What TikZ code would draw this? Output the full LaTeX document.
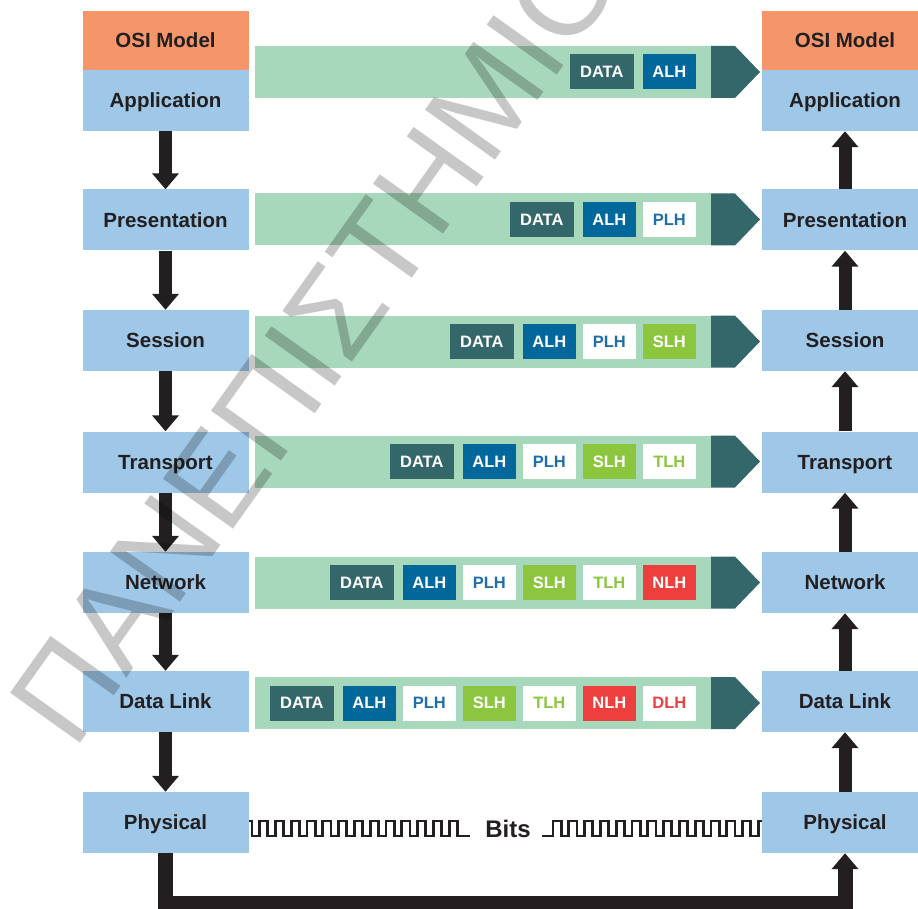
\documentclass[tikz,border=0pt]{standalone}
\usepackage{fontspec}
\setmainfont{Liberation Sans}
\usetikzlibrary{arrows.meta}

\definecolor{osic}{HTML}{F4956A}
\definecolor{boxc}{HTML}{9FC8E8}
\definecolor{bannerc}{HTML}{A8D8BB}
\definecolor{headc}{HTML}{33676A}
\definecolor{alhc}{HTML}{02679B}
\definecolor{plhtext}{HTML}{1F6EA8}
\definecolor{slhc}{HTML}{8CC63F}
\definecolor{nlhc}{HTML}{EE3F3F}
\definecolor{inkc}{HTML}{231F20}

\begin{document}
\begin{tikzpicture}[x=1pt,y=-1pt,
  layer/.style={fill=boxc, minimum width=166pt, minimum height=61pt, inner sep=0pt,
    text height=14.7pt, text depth=0pt,
    text=inkc, font=\fontsize{20.5}{24}\selectfont\bfseries},
  flow/.style={draw=inkc, line width=13pt, line join=miter,
    -{Triangle[width=26pt,length=16pt]}},
  pkt/.style={minimum width=53pt, minimum height=35pt, inner sep=0pt, anchor=east,
    text height=11.8pt, text depth=0pt,
    font=\fontsize{16.5}{18}\selectfont\bfseries},
  wave/.style={draw=inkc, line width=2.8pt, line join=miter}]

\clip (0,0) rectangle (918,909);
\fill[white] (0,0) rectangle (918,909);

% sending stack
\node[layer, fill=osic, minimum height=59pt] (L0) at (165.5,40.5) {OSI Model};
\node[layer] (L1) at (165.5,100.5) {Application};
\node[layer] (L2) at (165.5,220)   {Presentation};
\node[layer] (L3) at (165.5,340.5) {Session};
\node[layer] (L4) at (165.5,462)   {Transport};
\node[layer] (L5) at (165.5,582.5) {Network};
\node[layer] (L6) at (165.5,701.5) {Data Link};
\node[layer] (L7) at (165.5,822.5) {Physical};

% receiving stack
\node[layer, fill=osic, minimum height=59pt] (R0) at (845,40.5) {OSI Model};
\node[layer] (R1) at (845,100.5) {Application};
\node[layer] (R2) at (845,220)   {Presentation};
\node[layer] (R3) at (845,340.5) {Session};
\node[layer] (R4) at (845,462)   {Transport};
\node[layer] (R5) at (845,582.5) {Network};
\node[layer] (R6) at (845,701.5) {Data Link};
\node[layer] (R7) at (845,822.5) {Physical};

% down the sender, up the receiver
\foreach \a/\b in {1/2,2/3,3/4,4/5,5/6,6/7} {
  \draw[flow] (L\a.south) -- (L\b.north);
  \draw[flow] (R\b.north) -- (R\a.south);
}
\draw[flow, line width=15pt] (L7.south) -- ++(0,50) -| (R7.south);

% encapsulation banners with headers
\foreach \row/\yc/\n in {1/72/1, 2/219.5/2, 3/341.5/3, 4/461.5/4, 5/582.5/5, 6/703/6} {
  \fill[bannerc] (255,\yc-26) rectangle (711,\yc+26);
  \fill[headc] (711,\yc-26) -- (735,\yc-26) -- (760,\yc) -- (735,\yc+26) -- (711,\yc+26) -- cycle;
  \node[pkt, fill=headc, text=white, minimum width=64pt] (d\row)
    at ({634-60*(\n-1)},\yc) {DATA};
  \foreach \k/\lab/\fc/\tc in {1/ALH/alhc/white, 2/PLH/white/plhtext, 3/SLH/slhc/white,
                               4/TLH/white/slhc, 5/NLH/nlhc/white, 6/DLH/white/nlhc} {
    \ifnum\k>\n\relax\else
      \node[pkt, fill=\fc, text=\tc] (p\row-\k) at ({696-60*(\n-\k)},\yc) {\lab};
    \fi
  }
}

% bit stream between the physical layers
\node[text=inkc, font=\fontsize{24}{26}\selectfont\bfseries, inner sep=0pt] (bits) at (508,829) {Bits};
\draw[wave] (249,821) -- (252,821)
  \foreach \i in {1,...,13} { -- ++(0,15) -- ++(7.6,0) -- ++(0,-15) -- ++(8.2,0) }
  -- ++(0,15) -- (470,836);
\draw[wave] (542,836) -- (553,836)
  \foreach \i in {1,...,13} { -- ++(0,-15) -- ++(8.2,0) -- ++(0,15) -- ++(7.6,0) }
  -- ++(0,-15) -- (762,821);

% watermark
\node[font=\fontsize{125}{130}\selectfont, text=black, text opacity=0.22,
  rotate=54.5, anchor=base west, inner sep=0pt] (wm) at (74,752) {ΠΑΝΕΠΙΣΤΗΜΙΟ};

\end{tikzpicture}
\end{document}
